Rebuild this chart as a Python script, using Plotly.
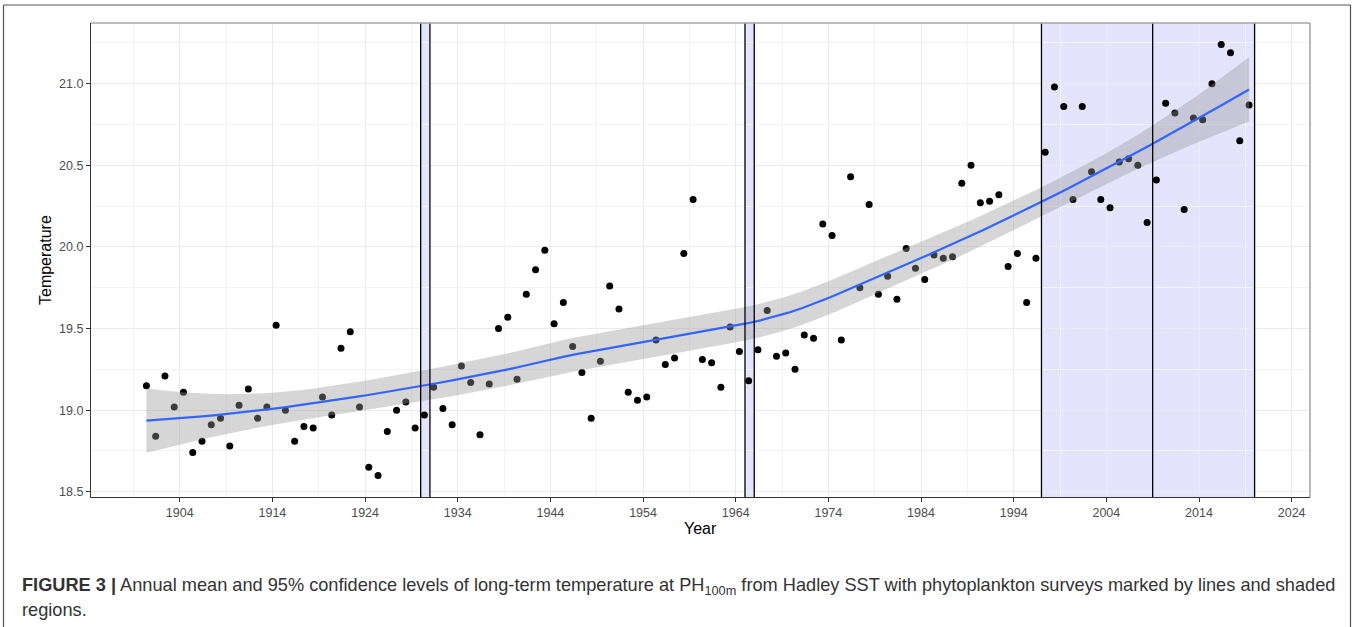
import numpy as np
import plotly.graph_objects as go

# ---------------- data ----------------
years = list(range(1900, 2020))
temperature = [
    19.15, 18.84, 19.21, 19.02, 19.11, 18.74, 18.81, 18.91, 18.95, 18.78,
    19.03, 19.13, 18.95, 19.02, 19.52, 19.00, 18.81, 18.90, 18.89, 19.08,
    18.97, 19.38, 19.48, 19.02, 18.65, 18.60, 18.87, 19.00, 19.05, 18.89,
    18.97, 19.14, 19.01, 18.91, 19.27, 19.17, 18.85, 19.16, 19.50, 19.57,
    19.19, 19.71, 19.86, 19.98, 19.53, 19.66, 19.39, 19.23, 18.95, 19.30,
    19.76, 19.62, 19.11, 19.06, 19.08, 19.43, 19.28, 19.32, 19.96, 20.29,
    19.31, 19.29, 19.14, 19.51, 19.36, 19.18, 19.37, 19.61, 19.33, 19.35,
    19.25, 19.46, 19.44, 20.14, 20.07, 19.43, 20.43, 19.75, 20.26, 19.71,
    19.82, 19.68, 19.99, 19.87, 19.80, 19.95, 19.93, 19.94, 20.39, 20.50,
    20.27, 20.28, 20.32, 19.88, 19.96, 19.66, 19.93, 20.58, 20.98, 20.86,
    20.29, 20.86, 20.46, 20.29, 20.24, 20.52, 20.54, 20.50, 20.15, 20.41,
    20.88, 20.82, 20.23, 20.79, 20.78, 21.00, 21.24, 21.19, 20.65, 20.87,
]
date_offset = 0.4          # points sit a little after the start of each year
survey_starts = [1930, 1965, 1997, 2009]
survey_ends = [1931, 1966, 2009, 2020]
x_ticks = list(range(1904, 2025, 10))
y_ticks = [18.5, 19.0, 19.5, 20.0, 20.5, 21.0]

x = np.array(years, dtype=float) + date_offset
y = np.array(temperature, dtype=float)


# ---------------- loess (degree 2, span 0.75) like geom_smooth ----------------
def loess_weights(x, x0, span=0.75):
    n = len(x)
    q = int(np.floor(n * span))
    d = np.abs(x - x0)
    h = np.sort(d)[q - 1]
    u = np.clip(d / h, 0, 1)
    w = (1 - u ** 3) ** 3
    X = np.column_stack([np.ones(n), x - x0, (x - x0) ** 2])
    XtW = X.T * w
    A = XtW @ X
    return np.linalg.solve(A, XtW)[0]


L = np.array([loess_weights(x, xi) for xi in x])
res = y - L @ y
IL = np.eye(len(x)) - L
M = IL.T @ IL
one_delta = np.trace(M)
two_delta = np.trace(M @ M)
sigma = np.sqrt(np.sum(res ** 2) / one_delta)
df = one_delta ** 2 / two_delta
z = 1.959964
tq = (z + (z ** 3 + z) / (4 * df) + (5 * z ** 5 + 16 * z ** 3 + 3 * z) / (96 * df ** 2)
      + (3 * z ** 7 + 19 * z ** 5 + 17 * z ** 3 - 15 * z) / (384 * df ** 3))

xs = np.linspace(x.min(), x.max(), 80)
ls = np.array([loess_weights(x, x0) for x0 in xs])
fit = ls @ y
se = sigma * np.sqrt(np.sum(ls ** 2, axis=1))
upper = fit + tq * se
lower = fit - tq * se

# ---------------- layout geometry ----------------
W, H = 1357, 627
ML, MR, MT, MB = 91, 47, 23, 130
PW, PH = W - ML - MR, H - MT - MB


def px(xp):
    return (xp - ML) / PW


def py(yp):
    return (H - MB - yp) / PH


xr = [x.min() - 0.05 * (max(survey_ends) - x.min()), max(survey_ends) + 0.05 * (max(survey_ends) - x.min())]
yr = [y.min() - 0.05 * (y.max() - y.min()), y.max() + 0.05 * (y.max() - y.min())]

fig = go.Figure()

fig.add_trace(go.Scatter(x=x, y=y, mode="markers",
                         marker=dict(color="black", size=7, line=dict(width=0)),
                         showlegend=False, hoverinfo="x+y"))
fig.add_trace(go.Scatter(x=xs, y=lower, mode="lines", line=dict(width=0, color="rgba(0,0,0,0)"),
                         showlegend=False, hoverinfo="skip"))
fig.add_trace(go.Scatter(x=xs, y=upper, mode="lines", line=dict(width=0, color="rgba(0,0,0,0)"),
                         fill="tonexty", fillcolor="rgba(153,153,153,0.4)",
                         showlegend=False, hoverinfo="skip"))
fig.add_trace(go.Scatter(x=xs, y=fit, mode="lines", line=dict(color="#3366FF", width=2.2),
                         showlegend=False, hoverinfo="skip"))

shapes = []
for s, e in zip(survey_starts, survey_ends):
    shapes.append(dict(type="rect", xref="x", yref="paper", x0=s, x1=e, y0=0, y1=1,
                       fillcolor="rgba(0,0,255,0.105)", line=dict(width=0), layer="between"))
for v in sorted(set(survey_starts + survey_ends)):
    shapes.append(dict(type="line", xref="x", yref="paper", x0=v, x1=v, y0=0, y1=1,
                       line=dict(color="black", width=1.3), layer="above"))
# panel border (top/right grey)
shapes.append(dict(type="line", xref="paper", yref="paper", x0=0, x1=1, y0=1, y1=1,
                   line=dict(color="#a6a6a6", width=1.6), layer="above"))
shapes.append(dict(type="line", xref="paper", yref="paper", x0=1, x1=1, y0=0, y1=1,
                   line=dict(color="#a6a6a6", width=1.6), layer="above"))
# outer frame of the figure
shapes.append(dict(type="line", xref="paper", yref="paper", x0=px(3.5), x1=px(3.5), y0=py(5), y1=py(627),
                   line=dict(color="#555555", width=1.2)))
shapes.append(dict(type="line", xref="paper", yref="paper", x0=px(3.5), x1=px(1350.5), y0=py(5), y1=py(5),
                   line=dict(color="#555555", width=1.2)))
shapes.append(dict(type="line", xref="paper", yref="paper", x0=px(1350.5), x1=px(1350.5), y0=py(5), y1=py(627),
                   line=dict(color="#555555", width=1.2)))

font_family = "Liberation Sans, Arial, Helvetica, sans-serif"

annotations = [
    dict(text="Year", xref="paper", yref="paper", x=0.5, y=py(528), xanchor="center", yanchor="middle",
         showarrow=False, font=dict(size=16, color="black", family=font_family)),
    dict(text="Temperature", xref="paper", yref="paper", x=px(45), y=0.5, xanchor="center", yanchor="middle",
         textangle=-90, showarrow=False, font=dict(size=16, color="black", family=font_family)),
    dict(text="<b>FIGURE 3 |</b> Annual mean and 95% confidence levels of long-term temperature at "
              "PH<sub>100m</sub> from Hadley SST with phytoplankton surveys marked by lines and shaded",
         xref="paper", yref="paper", x=px(20), y=py(586), xanchor="left", yanchor="middle",
         showarrow=False, font=dict(size=18.2, color="#333333", family=font_family)),
    dict(text="regions.", xref="paper", yref="paper", x=px(20), y=py(610), xanchor="left", yanchor="middle",
         showarrow=False, font=dict(size=18.2, color="#333333", family=font_family)),
]

fig.update_layout(
    width=W, height=H,
    margin=dict(l=ML, r=MR, t=MT, b=MB, pad=0),
    paper_bgcolor="white", plot_bgcolor="white",
    font=dict(family=font_family),
    shapes=shapes, annotations=annotations,
    showlegend=False,
)
fig.update_xaxes(range=xr, tickmode="array", tickvals=x_ticks, ticktext=[str(t) for t in x_ticks],
                 showgrid=True, gridcolor="#ebebeb", gridwidth=1.3,
                 minor=dict(tickmode="array", tickvals=[t - 5 for t in x_ticks] + [2019],
                            showgrid=True, gridcolor="#f3f3f3", gridwidth=0.7, ticks=""),
                 showline=True, linecolor="#333333", linewidth=1.3, mirror=False,
                 ticks="outside", ticklen=4, tickcolor="#333333", tickwidth=1.1,
                 tickfont=dict(size=12.5, color="#4d4d4d"), zeroline=False)
fig.update_yaxes(range=yr, tickmode="array", tickvals=y_ticks, ticktext=[f"{t:.1f}" for t in y_ticks],
                 showgrid=True, gridcolor="#ebebeb", gridwidth=1.3,
                 minor=dict(tickmode="array", tickvals=[t + 0.25 for t in y_ticks],
                            showgrid=True, gridcolor="#f3f3f3", gridwidth=0.7, ticks=""),
                 showline=True, linecolor="#333333", linewidth=1.3, mirror=False,
                 ticks="outside", ticklen=4, tickcolor="#333333", tickwidth=1.1,
                 tickfont=dict(size=12.5, color="#4d4d4d"), zeroline=False)

fig.write_html("out.html", config={"displayModeBar": False},
               post_script="document.body.style.margin='0px';document.body.style.overflow='hidden';")
